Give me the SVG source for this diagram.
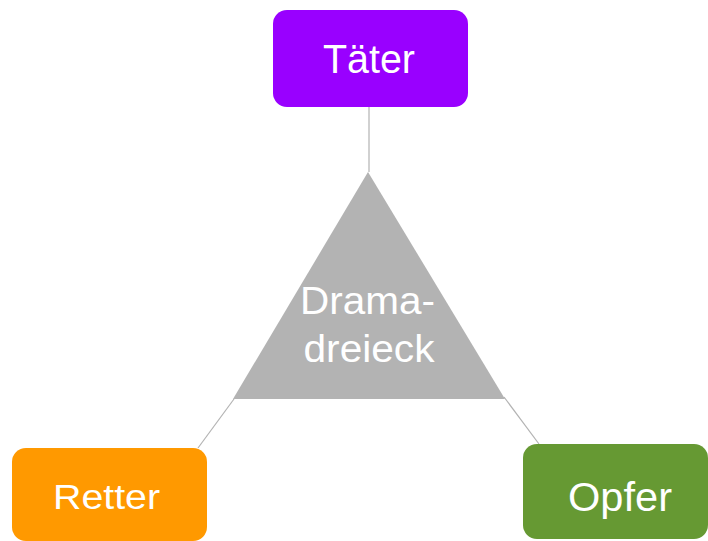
<svg xmlns="http://www.w3.org/2000/svg" width="708" height="541" viewBox="0 0 708 541">
<style>
.lbl{font-family:"Liberation Sans",Arial,sans-serif;fill:#ffffff;text-anchor:middle}
.conn{stroke:#b3b3b3;stroke-width:1.2;fill:none}
</style>
<rect width="708" height="541" fill="#ffffff"/>
<g id="connectors">
<line class="conn" x1="369" y1="107" x2="369" y2="172"/>
<line class="conn" x1="198" y1="448" x2="234" y2="399"/>
<line class="conn" x1="504" y1="397" x2="539" y2="444"/>
</g>
<g id="dramadreieck">
<polygon points="368,172 233,399 505,399" fill="#b3b3b3"/>
<text class="lbl" x="367.5" y="314" font-size="38" textLength="135" lengthAdjust="spacingAndGlyphs">Drama-</text>
<text class="lbl" x="369" y="362" font-size="38" textLength="131" lengthAdjust="spacingAndGlyphs">dreieck</text>
</g>
<g id="taeter">
<rect x="273" y="10" width="195" height="97" rx="14" fill="#9900ff"/>
<text class="lbl" x="369" y="73" font-size="40" textLength="92" lengthAdjust="spacingAndGlyphs">Täter</text>
</g>
<g id="retter">
<rect x="12" y="448" width="195" height="93" rx="14" fill="#ff9900"/>
<text class="lbl" x="106.5" y="509" font-size="35" textLength="107" lengthAdjust="spacingAndGlyphs">Retter</text>
</g>
<g id="opfer">
<rect x="523" y="444" width="185" height="95" rx="14" fill="#669933"/>
<text class="lbl" x="620" y="511" font-size="40" textLength="104" lengthAdjust="spacingAndGlyphs">Opfer</text>
</g>
</svg>
